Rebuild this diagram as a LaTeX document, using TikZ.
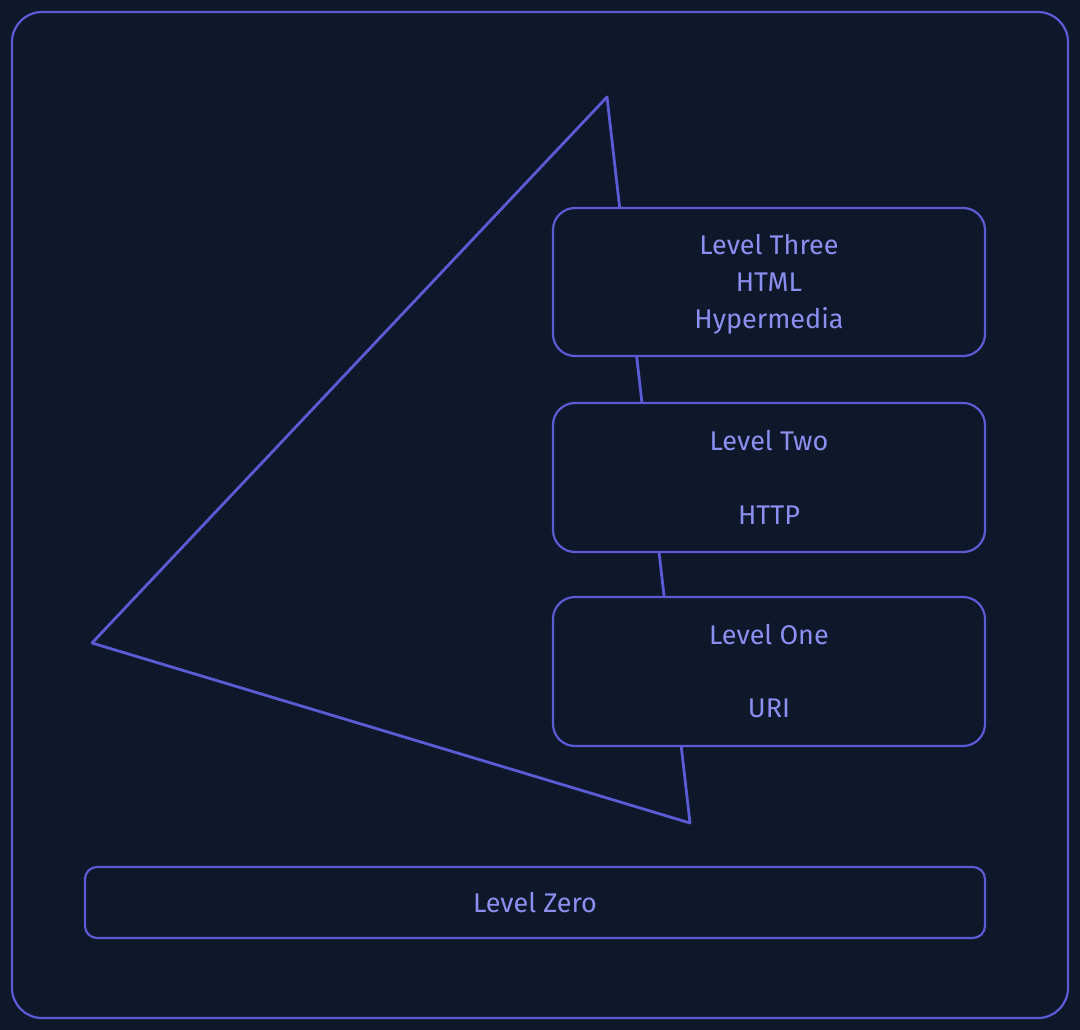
\documentclass[tikz,border=0pt]{standalone}
\usepackage{fontspec}
\setmainfont{Fira Sans}
\definecolor{bg}{HTML}{0F172A}
\definecolor{ln}{HTML}{5B5BD6}
\definecolor{tx}{HTML}{8A8FF0}
\begin{document}
\begin{tikzpicture}[x=1pt,y=-1pt,
  box/.style={draw=ln,line width=2.2pt,fill=bg,rounded corners=22pt},
  lbl/.style={text=tx,font=\fontsize{27}{37}\selectfont,align=center}]
\fill[bg] (0,0) rectangle (1080,1030);
\useasboundingbox (0,0) rectangle (1080,1030);
\draw[ln,line width=2.2pt,rounded corners=30pt] (12,12) rectangle (1068,1018);
\coordinate (t) at (607,97);
\coordinate (l) at (92,643);
\coordinate (b) at (690,823);
\draw[ln,line width=2.8pt,line join=round] (t) -- (l) -- (b) -- cycle;
\draw[box] (553,208) rectangle (985,356);
\draw[box] (553,403) rectangle (985,552);
\draw[box] (553,597) rectangle (985,746);
\draw[box,rounded corners=12pt] (85,867) rectangle (985,938);
\node[lbl] (l3) at (769,284) {Level Three\\HTML\\Hypermedia};
\node[lbl] (l2a) at (769,441) {Level Two};
\node[lbl] (l2b) at (769,515) {HTTP};
\node[lbl] (l1a) at (769,635) {Level One};
\node[lbl] (l1b) at (769,708) {URI};
\node[lbl] (l0) at (535,903) {Level Zero};
\end{tikzpicture}
\end{document}
